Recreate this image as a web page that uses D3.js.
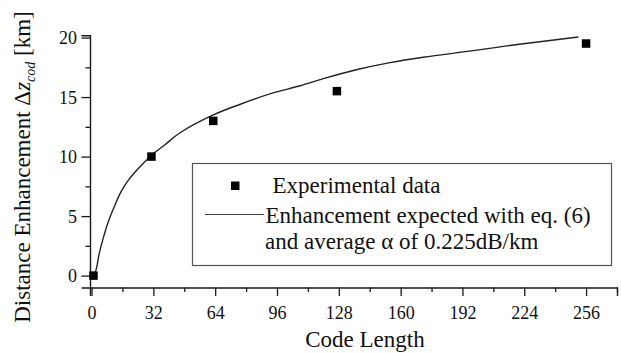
<!DOCTYPE html>
<html>
<head>
<meta charset="utf-8">
<script src="https://cdn.jsdelivr.net/npm/d3@7/dist/d3.min.js"></script>
<style>
  html, body { margin: 0; padding: 0; background: #fff; }
  svg { display: block; }
  text { font-family: "Liberation Serif", "Times New Roman", serif; fill: #111; }
</style>
</head>
<body>
<svg id="chart" width="621" height="353"></svg>
<script>
// Measured coding enhancement at each code length
const codeLengths = [1, 31, 63, 127, 256];
const measuredKm = [0, 10, 13, 15.5, 19.5];

// Expected enhancement (eq. 6, average alpha 0.225 dB/km)
const curveN  = [1, 2.3, 4, 5.8, 8.4, 11.8, 15.3, 19, 24.2, 31, 38, 45.8, 63, 77, 94, 108, 120, 137, 154.5, 171.7, 197.6, 215, 232, 252];
const curveKm = [0, 0.46, 1.87, 3.0, 4.4, 5.8, 7.05, 8.0, 9.0, 10.1, 11.0, 12.0, 13.5, 14.4, 15.35, 15.95, 16.55, 17.3, 17.9, 18.35, 18.9, 19.3, 19.65, 20.05];

const xTicks = [0, 32, 64, 96, 128, 160, 192, 224, 256];
const xMinorTicks = [16, 48, 80, 112, 144, 176, 208, 240, 272];
const yTicks = [0, 5, 10, 15, 20];
const yMinorTicks = [2.5, 7.5, 12.5, 17.5];

const legendLabels = ["Experimental data", "Enhancement expected with eq. (6)", "and average \u03b1 of 0.225dB/km"];

const svg = d3.select("#chart");
const ink = "#1a1a1a";

const x = d3.scaleLinear().domain([-0.8, 272]).range([90, 617]);
const y = d3.scaleLinear().domain([-1, 20.2]).range([287.5, 35.2]);

// minor ticks
svg.append("g").attr("transform", "translate(0,287.5)")
  .call(d3.axisBottom(x).tickValues(xMinorTicks).tickSize(4.5).tickFormat(""))
  .call(g => g.select(".domain").remove());
svg.append("g").attr("transform", "translate(90,0)")
  .call(d3.axisLeft(y).tickValues(yMinorTicks).tickSize(4.5).tickFormat(""))
  .call(g => g.select(".domain").remove());

// major ticks and labels
const xAxis = svg.append("g").attr("transform", "translate(0,287.5)")
  .call(d3.axisBottom(x).tickValues(xTicks).tickSize(8.5).tickPadding(10).tickFormat(d3.format("d")));
const yAxis = svg.append("g").attr("transform", "translate(90,0)")
  .call(d3.axisLeft(y).tickValues(yTicks).tickSize(8.5).tickPadding(4.5).tickFormat(d3.format("d")));

svg.selectAll(".tick line").attr("stroke", ink).attr("stroke-width", 1.3);
svg.selectAll(".domain").attr("stroke", ink).attr("stroke-width", 1.4);
svg.selectAll(".tick text").attr("font-family", "Liberation Serif").attr("font-size", 18).attr("fill", "#111");
yAxis.selectAll(".tick text").attr("dy", "0.34em");

// axis titles
svg.append("text")
  .attr("x", 365).attr("y", 347)
  .attr("text-anchor", "middle")
  .attr("font-size", 23)
  .text("Code Length");

const yTitle = svg.append("text")
  .attr("transform", "translate(30,167) rotate(-90)")
  .attr("text-anchor", "middle")
  .attr("font-size", 23);
yTitle.append("tspan").text("Distance Enhancement \u0394");
yTitle.append("tspan").attr("font-style", "italic").text("z");
yTitle.append("tspan").attr("font-style", "italic").attr("font-size", 14).attr("dy", 5).text("cod");
yTitle.append("tspan").attr("dy", -5).text(" [km]");

// expected curve
const line = d3.line()
  .x((d, i) => x(curveN[i]))
  .y((d, i) => y(curveKm[i]))
  .curve(d3.curveCatmullRom.alpha(0.5));
svg.append("path")
  .datum(curveN)
  .attr("d", line)
  .attr("fill", "none")
  .attr("stroke", "#222")
  .attr("stroke-width", 1.4);

// measured points
const sq = 8.5;
svg.append("g").selectAll("rect")
  .data(codeLengths)
  .join("rect")
  .attr("x", (d) => x(d) - sq / 2)
  .attr("y", (d, i) => y(measuredKm[i]) - sq / 2)
  .attr("width", sq).attr("height", sq)
  .attr("fill", "#000");

// legend
const legend = svg.append("g");
legend.append("rect")
  .attr("x", 192.5).attr("y", 163.5)
  .attr("width", 419).attr("height", 102)
  .attr("fill", "#fff")
  .attr("stroke", "#555").attr("stroke-width", 1.2);
legend.append("rect")
  .attr("x", 231).attr("y", 181.5).attr("width", 8.5).attr("height", 8.5)
  .attr("fill", "#000");
legend.append("line")
  .attr("x1", 205).attr("x2", 264).attr("y1", 214.5).attr("y2", 214.5)
  .attr("stroke", "#444").attr("stroke-width", 1.1);
const legendPos = [[272.5, 193.3], [265.5, 222.5], [265, 249]];
legend.selectAll("text.lbl")
  .data(legendLabels)
  .join("text")
  .attr("class", "lbl")
  .attr("x", (d, i) => legendPos[i][0])
  .attr("y", (d, i) => legendPos[i][1])
  .attr("font-size", 23)
  .text(d => d);
</script>
</body>
</html>
